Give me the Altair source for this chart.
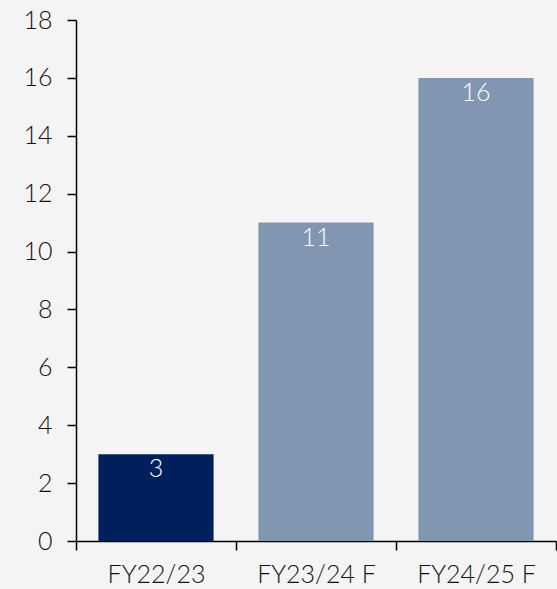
import altair as alt
import pandas as pd

categories = ["FY22/23", "FY23/24 F", "FY24/25 F"]
values = [3, 11, 16]
colors = ["#011f5b", "#8196b0", "#8196b0"]

df = pd.DataFrame({"cat": categories, "val": values, "color": colors})

FONT = "Lato"

x = alt.X("cat:N", sort=categories, title=None,
          scale=alt.Scale(paddingInner=0, paddingOuter=0),
          axis=alt.Axis(labelAngle=0, labelFontSize=25, labelColor="#111",
                        labelFont=FONT, labelFontWeight=300, tickBand="extent", tickSize=9,
                        tickColor="#000", domainColor="#000", tickWidth=1.5,
                        domainWidth=1.5, labelPadding=12))
y = alt.Y("val:Q", title=None,
          scale=alt.Scale(domain=[0, 18]),
          axis=alt.Axis(values=list(range(0, 19, 2)), grid=False, labelFontSize=25,
                        labelFont=FONT, labelFontWeight=300, labelColor="#111", tickSize=9,
                        tickColor="#000", domainColor="#000", tickWidth=1.5,
                        domainWidth=1.5, labelPadding=15))

bars = alt.Chart(df).mark_bar(width={"band": 0.72}).encode(
    x=x, y=y, color=alt.Color("color:N", scale=None)
)
labels = alt.Chart(df).mark_text(
    baseline="top", dy=3, color="white", fontSize=25, font=FONT, fontWeight=300
).encode(x=alt.X("cat:N", sort=categories), y="val:Q", text="val:Q")

chart = (bars + labels).properties(
    width=480, height=521,
    background="#f4f4f4",
    padding={"left": 76, "top": 20, "right": 1, "bottom": 48},
    autosize=alt.AutoSizeParams(type="none"),
).configure_view(stroke=None)

chart.save("out.html", embed_options={"renderer": "svg", "actions": False})
